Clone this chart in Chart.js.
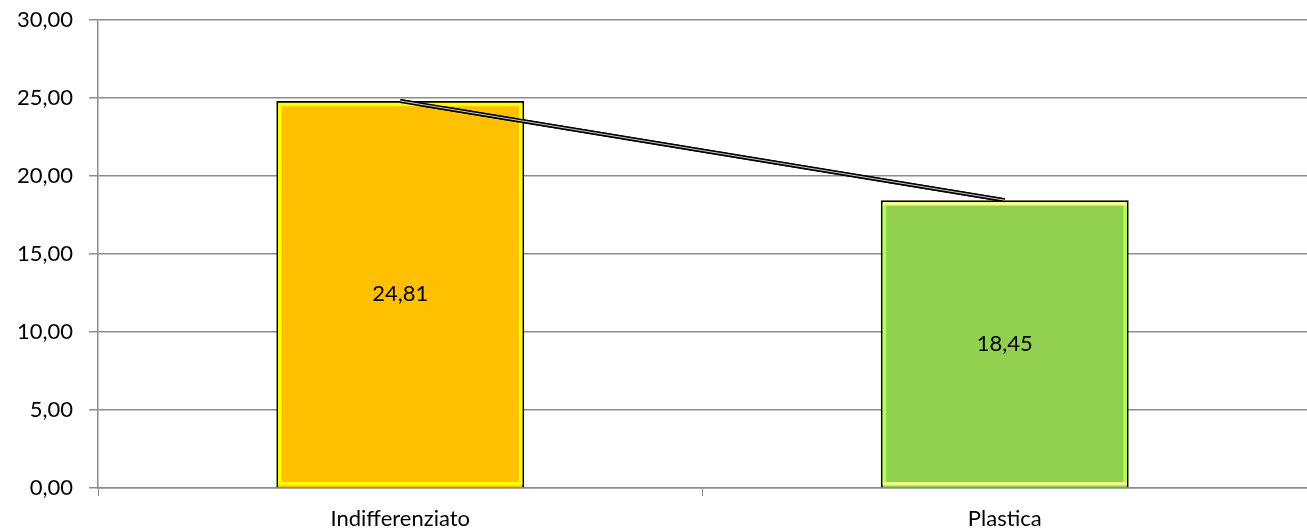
<!DOCTYPE html>
<html>
<head>
<meta charset="utf-8">
<script src="https://cdn.jsdelivr.net/npm/chart.js@4/dist/chart.umd.min.js"></script>
<style>
    html, body { margin: 0; padding: 0; background: #fff; }
    #wrap { width: 1307px; height: 532px; }
</style>
</head>
<body>
<div id="wrap"><canvas id="chart"></canvas></div>
<script>
// --- data ---
const categories = ["Indifferenziato", "Plastica"];
const values = [24.81, 18.45];
const barColors = ["#FFC000", "#92D050"];
const innerSide = ["#FFFF00", "#B4FF5C"];
const innerTopBottom = ["#FFFF00", "#F4FF88"];
const yTicks = [0, 5, 10, 15, 20, 25, 30];

const fmt = v => v.toFixed(2).replace('.', ',');
const FONT = "Lato, 'Open Sans', sans-serif";

// inner light border + centered value labels
const barDecor = {
    id: 'barDecor',
    afterDatasetsDraw(chart) {
        const meta = chart.getDatasetMeta(2);
        const ctx = chart.ctx;
        meta.data.forEach((bar, i) => {
            const left = bar.x - bar.width / 2 + 3.5;
            const right = bar.x + bar.width / 2 - 3.5;
            const top = bar.y + 3.5;
            const bottom = bar.base - 3.5;
            ctx.save();
            ctx.lineWidth = 3.5;
            ctx.strokeStyle = innerSide[i];
            ctx.beginPath();
            ctx.moveTo(left, top); ctx.lineTo(left, bottom);
            ctx.moveTo(right, top); ctx.lineTo(right, bottom);
            ctx.stroke();
            ctx.strokeStyle = innerTopBottom[i];
            ctx.beginPath();
            ctx.moveTo(left - 1.5, top); ctx.lineTo(right + 1.5, top);
            ctx.moveTo(left - 1.5, bottom); ctx.lineTo(right + 1.5, bottom);
            ctx.stroke();

            ctx.fillStyle = '#000';
            ctx.font = "22px " + FONT;
            ctx.textAlign = 'center';
            ctx.textBaseline = 'middle';
            ctx.fillText(fmt(values[i]), bar.x, (bar.y + bar.base) / 2);
            ctx.restore();
        });
        // redraw the connecting line above the bar decoration
        chart.getDatasetMeta(1).controller.draw();
        chart.getDatasetMeta(0).controller.draw();
    }
};

new Chart(document.getElementById('chart'), {
    data: {
        labels: categories,
        datasets: [
            {
                type: 'line',
                data: values,
                borderColor: '#ffffff',
                borderWidth: 0.8,
                pointRadius: 0,
                order: 0
            },
            {
                type: 'line',
                data: values,
                borderColor: '#000000',
                borderWidth: 4,
                pointRadius: 0,
                order: 1
            },
            {
                type: 'bar',
                data: values,
                backgroundColor: barColors,
                borderColor: '#000000',
                borderWidth: 2,
                barPercentage: 0.41,
                categoryPercentage: 1,
                order: 2
            }
        ]
    },
    options: {
        responsive: true,
        maintainAspectRatio: false,
        animation: false,
        layout: { padding: { top: 0, right: 0, left: 0, bottom: 0 } },
        plugins: { legend: { display: false }, tooltip: { enabled: false } },
        scales: {
            x: {
                offset: true,
                grid: { offset: true, drawOnChartArea: false, drawTicks: true, tickLength: 8, color: '#8c8c8c', lineWidth: 1 },
                border: { color: '#8c8c8c', width: 1.5 },
                ticks: { color: '#000', font: { family: FONT, size: 22 }, padding: 10 },
                afterFit(scale) { scale.height = 44; }
            },
            y: {
                min: 0,
                max: 30,
                afterBuildTicks(scale) { scale.ticks = yTicks.map(v => ({ value: v })); },
                grid: { color: '#8c8c8c', lineWidth: 1.5, tickLength: 9 },
                border: { color: '#8c8c8c', width: 1.5 },
                ticks: { color: '#000', font: { family: FONT, size: 22 }, padding: 16, callback: v => fmt(v) },
                afterFit(scale) { scale.width = 98; scale.paddingTop = 20; scale.paddingBottom = 0; }
            }
        }
    },
    plugins: [barDecor]
});
</script>
</body>
</html>
